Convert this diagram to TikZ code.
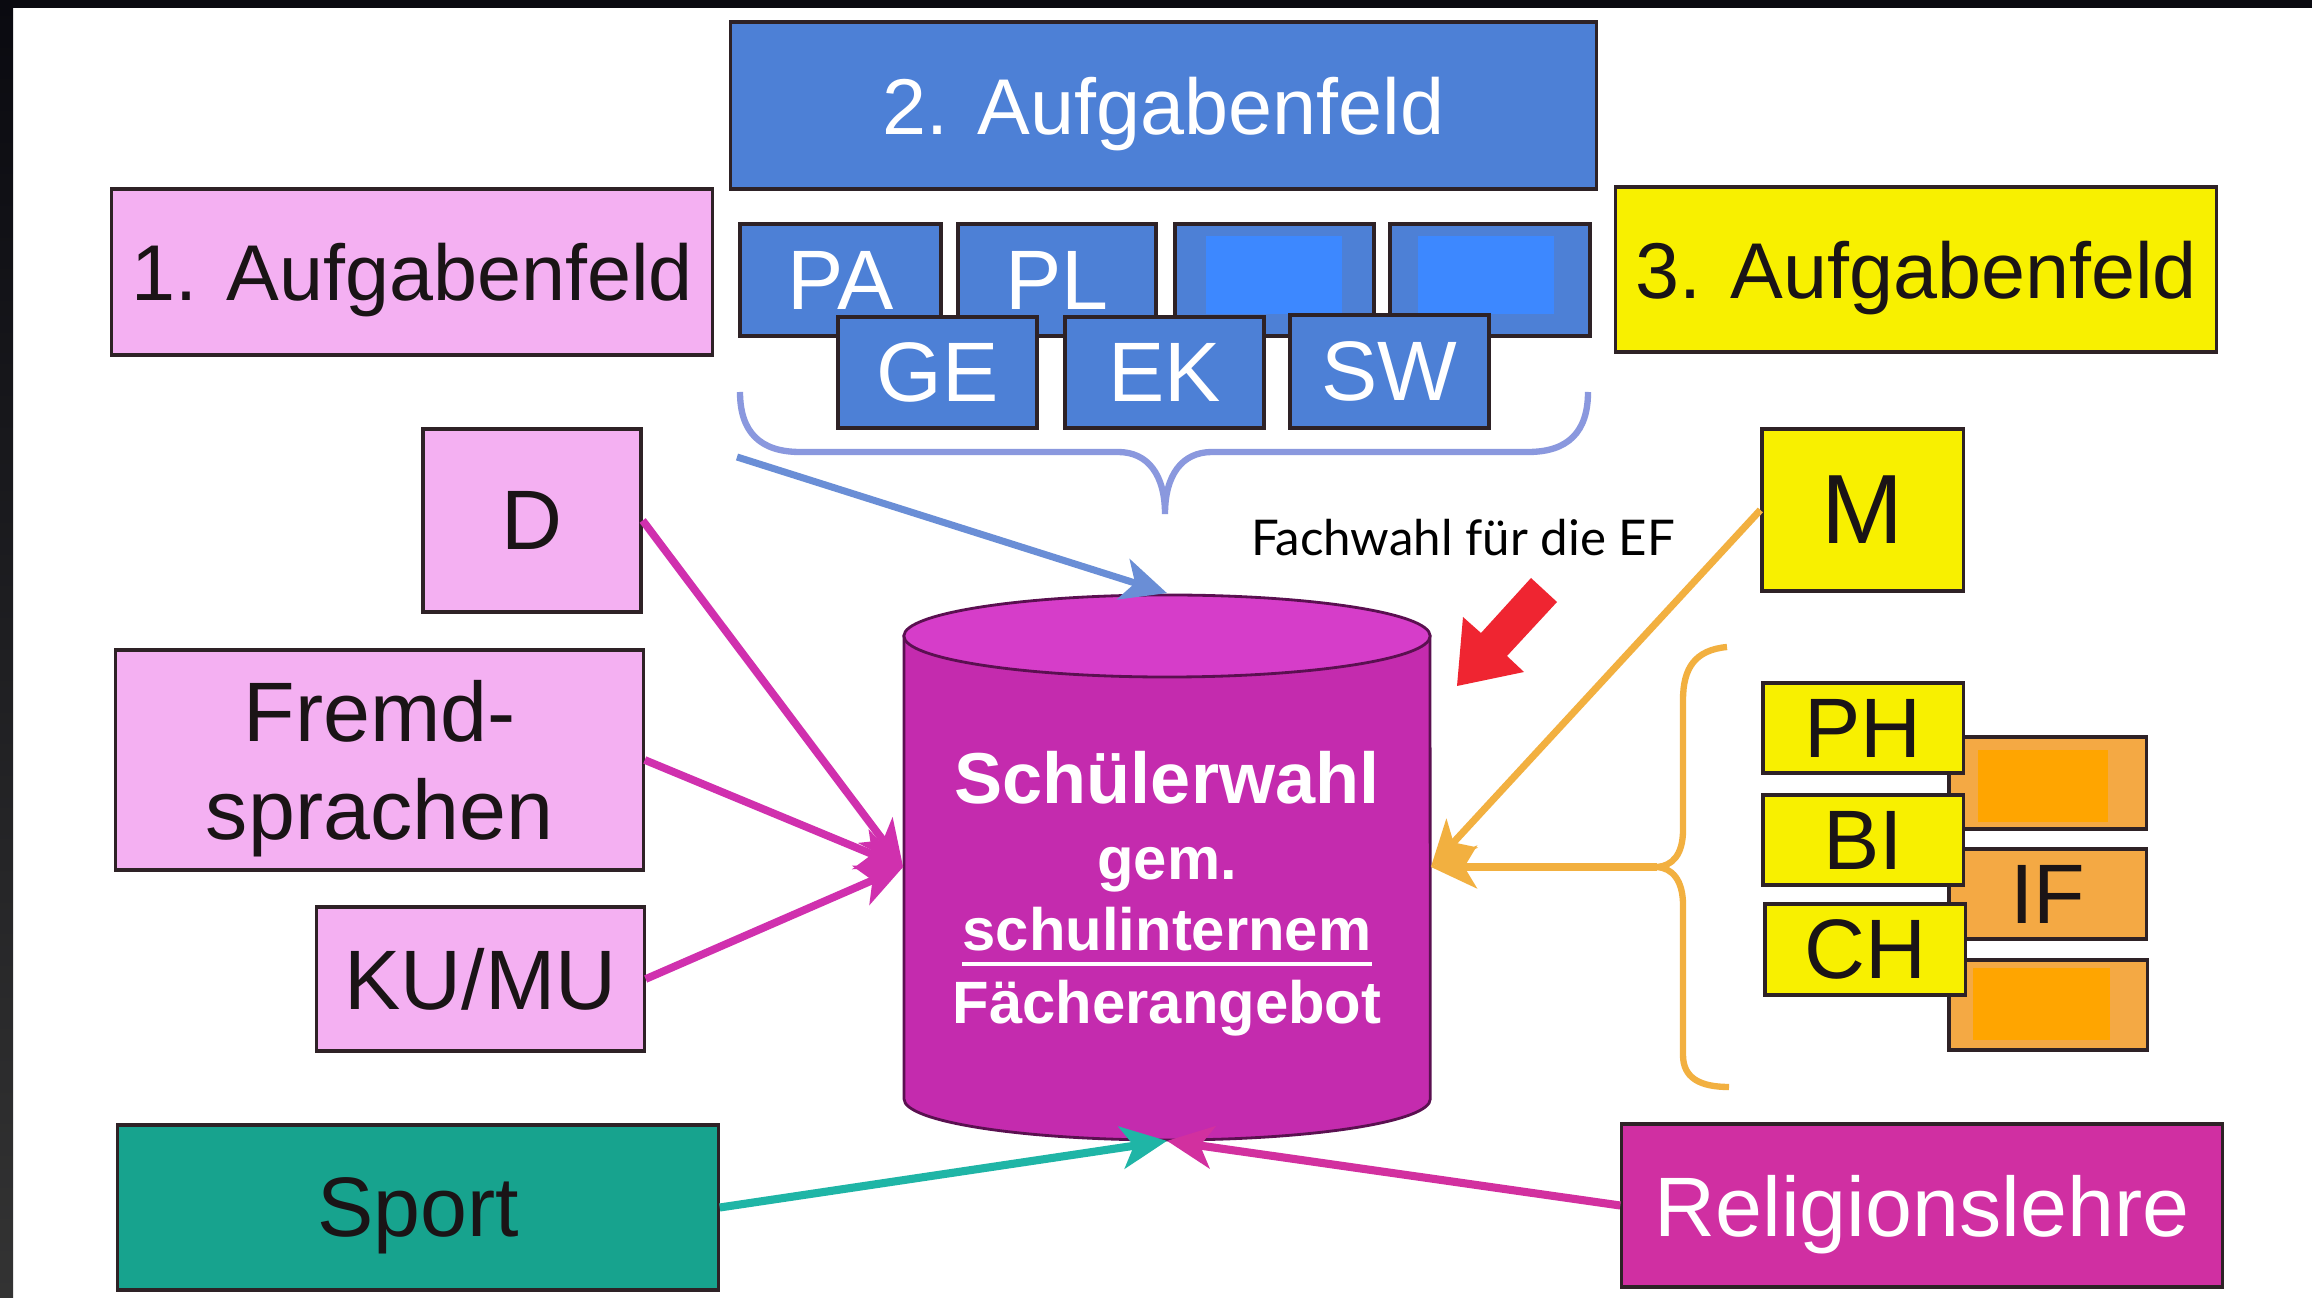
\documentclass[tikz,border=0pt]{standalone}
\usepackage{fontspec}
\setmainfont{Liberation Sans}
\newfontfamily\fachfont{Lato}
\usetikzlibrary{arrows.meta}
\definecolor{boxline}{HTML}{2E2226}
\definecolor{txtdark}{HTML}{1A1416}
\definecolor{pinkfill}{HTML}{F4B0F2}
\definecolor{bluefill}{HTML}{4D80D6}
\definecolor{brightblue}{HTML}{3D88FF}
\definecolor{yellowfill}{HTML}{F8F000}
\definecolor{orangefill}{HTML}{F4A944}
\definecolor{brightorange}{HTML}{FFA500}
\definecolor{tealfill}{HTML}{17A38E}
\definecolor{cylbody}{HTML}{C42BAE}
\definecolor{cyltop}{HTML}{D63DC9}
\definecolor{cyledge}{HTML}{5A1050}
\definecolor{relfill}{HTML}{D02FA2}
\definecolor{pinkline}{HTML}{D030AE}
\definecolor{orangeline}{HTML}{F2B040}
\definecolor{braceblue}{HTML}{8A98DE}
\definecolor{arrowblue}{HTML}{6A8ED6}
\definecolor{tealline}{HTML}{1FB5A6}
\definecolor{magline}{HTML}{D2309F}
\definecolor{redarrow}{HTML}{EF2531}
\definecolor{topband}{HTML}{0A0A10}
\begin{document}
\begin{tikzpicture}[x=0.01cm,y=-0.01cm,
  bx/.style={draw=boxline, line width=0.9pt, inner sep=0pt, align=center, text depth=0pt,
    font=\fontsize{24pt}{28pt}\selectfont},
  pinkbox/.style={bx, fill=pinkfill, text=txtdark},
  bluebox/.style={bx, fill=bluefill, text=white},
  yellowbox/.style={bx, fill=yellowfill, text=txtdark},
  orangebox/.style={bx, fill=orangefill, text=txtdark},
  tealbox/.style={bx, fill=tealfill, text=txtdark},
  magbox/.style={bx, fill=relfill, text=white},
  tip/.style={-{Stealth[length=13pt,width=12pt,inset=3.5pt]}},
  pinkarrow/.style={tip, draw=pinkline, line width=2.2pt},
  orangearrow/.style={tip, draw=orangeline, line width=2pt},
  bluearrow/.style={tip, draw=arrowblue, line width=2pt},
  tealarrow/.style={tip, draw=tealline, line width=2.3pt},
  magarrow/.style={tip, draw=magline, line width=2.3pt},
  bracebluestyle/.style={draw=braceblue, line width=1.8pt},
  braceorangestyle/.style={draw=orangeline, line width=1.8pt},
  cyltext/.style={text=white, font=\bfseries\fontsize{17pt}{20pt}\selectfont, anchor=base, inner sep=0pt}
]
\useasboundingbox (0,0) rectangle (2312,1298);
\fill[white] (0,0) rectangle (2312,1298);
\fill[topband] (0,0) rectangle (2312,8);
\shade[top color=topband, bottom color=black!60!gray] (0,0) rectangle (13,1298);

% top group: 2. Aufgabenfeld
\node[bluebox, minimum width=8.65cm, minimum height=1.67cm, font=\fontsize{22.5pt}{27pt}\selectfont] (A2) at (1163.5,105.5) {2. Aufgabenfeld};
\node[pinkbox, minimum width=6cm, minimum height=1.66cm, font=\fontsize{22.5pt}{27pt}\selectfont] (A1) at (412,272) {1. Aufgabenfeld};
\node[yellowbox, minimum width=6cm, minimum height=1.65cm, font=\fontsize{22.5pt}{27pt}\selectfont] (A3) at (1916,269.5) {3. Aufgabenfeld};

\node[bluebox, minimum width=2.01cm, minimum height=1.12cm] (PA) at (840.5,280) {PA};
\node[bluebox, minimum width=1.98cm, minimum height=1.12cm] (PL) at (1057,280) {PL};
\node[bluebox, minimum width=1.99cm, minimum height=1.12cm] (B3) at (1274.5,280) {};
\node[bluebox, minimum width=2.00cm, minimum height=1.12cm] (B4) at (1490,280) {};
\fill[brightblue] (1206,236) rectangle (1342,314);
\fill[brightblue] (1418,236) rectangle (1554,314);
\node[bluebox, minimum width=1.99cm, minimum height=1.11cm] (GE) at (937.5,372.5) {GE};
\node[bluebox, minimum width=1.99cm, minimum height=1.11cm] (EK) at (1164.5,372.5) {EK};
\node[bluebox, minimum width=1.99cm, minimum height=1.13cm] (SW) at (1389.5,371.5) {SW};

% blue brace
\draw[bracebluestyle] (740,392) .. controls (740,432) and (760,452) .. (800,452)
  -- (1118,452) .. controls (1148,452) and (1165,475) .. (1165,514)
  .. controls (1165,475) and (1182,452) .. (1212,452)
  -- (1528,452) .. controls (1568,452) and (1588,432) .. (1588,392);

% left boxes
\node[pinkbox, minimum width=2.18cm, minimum height=1.83cm] (D) at (532,520.5) {D};
\node[pinkbox, minimum width=5.27cm, minimum height=2.20cm] (FS) at (379.5,760) {Fremd-\\sprachen};
\node[pinkbox, minimum width=3.27cm, minimum height=1.44cm] (KM) at (480.5,979) {KU/MU};
\node[tealbox, minimum width=6.00cm, minimum height=1.65cm] (SP) at (418,1207.5) {Sport};

% right boxes
\node[yellowbox, minimum width=2.01cm, minimum height=1.62cm, font=\fontsize{28pt}{32pt}\selectfont] (M) at (1862.5,510) {M};
\node[orangebox, minimum width=1.97cm, minimum height=0.92cm] (O1) at (2047.5,783) {};
\node[orangebox, minimum width=1.97cm, minimum height=0.90cm] (IF) at (2047.5,894) {IF};
\node[orangebox, minimum width=1.98cm, minimum height=0.90cm] (O3) at (2048,1005) {};
\fill[brightorange] (1978,750) rectangle (2108,822);
\fill[brightorange] (1973,968) rectangle (2110,1040);
\node[yellowbox, minimum width=2.00cm, minimum height=0.90cm] (PH) at (1863,728) {PH};
\node[yellowbox, minimum width=2.00cm, minimum height=0.90cm] (BI) at (1863,840) {BI};
\node[yellowbox, minimum width=2.00cm, minimum height=0.91cm] (CH) at (1865,949.5) {CH};
\node[magbox, minimum width=6.00cm, minimum height=1.63cm] (RL) at (1922,1205.5) {Religionslehre};

% orange brace
\draw[braceorangestyle] (1727,647) .. controls (1695,650) and (1683,668) .. (1683,700)
  -- (1683,830) .. controls (1683,855) and (1672,866) .. (1657,867)
  .. controls (1672,868) and (1683,880) .. (1683,905)
  -- (1683,1055) .. controls (1683,1078) and (1700,1087) .. (1729,1087);

% cylinder
\node[minimum width=5.26cm, minimum height=5.46cm, inner sep=0pt] (cyl) at (1167,867) {};
\filldraw[fill=cylbody, draw=cyledge, line width=0.8pt] (904,636) -- (904,1099)
  arc[start angle=180, end angle=360, x radius=2.63cm, y radius=0.41cm] -- (1430,636) -- cycle;
\filldraw[fill=cyltop, draw=cyledge, line width=0.8pt] (1167,636) ellipse[x radius=2.63cm, y radius=0.41cm];
\node[cyltext, font=\bfseries\fontsize{20.5pt}{24pt}\selectfont] (c1) at (1167,804) {Schülerwahl};
\node[cyltext] (c2) at (1167,880) {gem.};
\node[cyltext] (c3) at (1167,951) {schulinternem};
\draw[white, line width=1.2pt] ([yshift=-3.7pt]c3.base west) -- ([yshift=-3.7pt]c3.base east);
\node[cyltext] (c4) at (1167,1024) {Fächerangebot};

% connectors
\coordinate (bstart) at (737,457);
\coordinate (otip) at (1657,867);
\draw[bluearrow] (bstart) -- (cyl.north);
\draw[pinkarrow] (D.east) -- (cyl.west);
\draw[pinkarrow] (FS.east) -- (cyl.west);
\draw[pinkarrow] (KM.east) -- (cyl.west);
\draw[orangearrow] (M.west) -- (cyl.east);
\draw[orangearrow, line width=2.4pt] (otip) -- (cyl.east);
\draw[tealarrow] (SP.east) -- (cyl.south);
\draw[magarrow] (RL.west) -- (cyl.south);

% annotation
\node[font=\fachfont\fontsize{14pt}{17pt}\selectfont, text=black, inner sep=0pt] (fach) at (1463,538) {Fachwahl für die EF};
\fill[redarrow] (1457,686) -- (1524,672) -- (1507,656) -- (1557,602) -- (1531,578) -- (1481,633) -- (1463,617) -- cycle;
\end{tikzpicture}
\end{document}
